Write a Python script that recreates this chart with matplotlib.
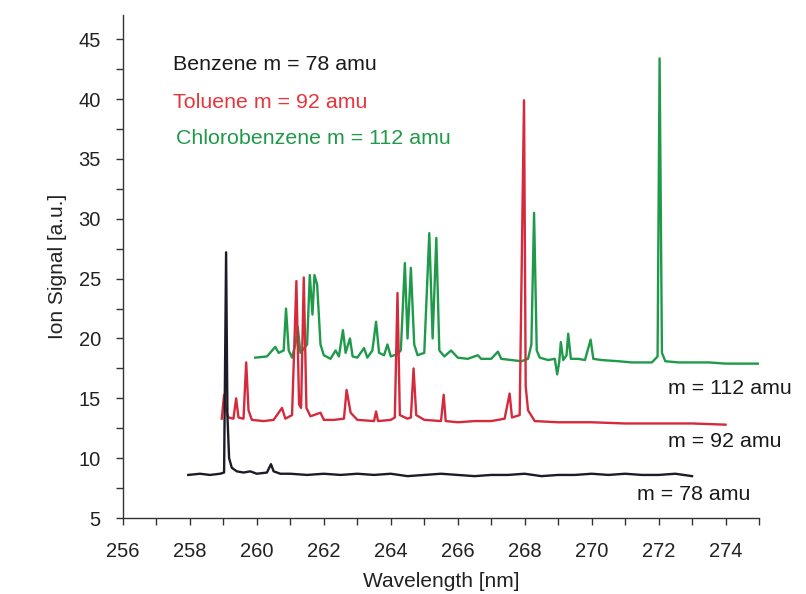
import matplotlib
matplotlib.use("Agg")
import matplotlib.pyplot as plt
from matplotlib.ticker import MultipleLocator

plt.rcParams['font.family'] = ['Liberation Sans', 'DejaVu Sans']

# ---- data ----
benzene_wl = [257.95, 258.3, 258.6, 258.9, 259.02, 259.08, 259.12, 259.17, 259.25, 259.4,
              259.6, 259.8, 260.0, 260.3, 260.42, 260.5, 260.7, 261.0, 261.5, 262.0,
              262.5, 263.0, 263.5, 264.0, 264.5, 265.0, 265.5, 266.0, 266.5, 267.0,
              267.5, 268.0, 268.5, 269.0, 269.5, 270.0, 270.5, 271.0, 271.5, 272.0,
              272.5, 273.0]
benzene_sig = [8.6, 8.7, 8.6, 8.7, 8.8, 27.2, 13.5, 10.0, 9.2, 8.9,
               8.8, 8.9, 8.7, 8.8, 9.5, 8.9, 8.7, 8.7, 8.6, 8.7,
               8.6, 8.7, 8.6, 8.7, 8.5, 8.6, 8.7, 8.6, 8.5, 8.6,
               8.6, 8.7, 8.5, 8.6, 8.6, 8.7, 8.6, 8.7, 8.6, 8.6,
               8.7, 8.5]

toluene_wl = [258.95, 259.02, 259.08, 259.15, 259.3, 259.38, 259.45, 259.6, 259.68, 259.75,
              259.85, 260.2, 260.5, 260.75, 260.85, 261.05, 261.18, 261.26, 261.32, 261.4,
              261.48, 261.6, 261.9, 262.0, 262.3, 262.6, 262.68, 262.8, 263.0, 263.5,
              263.56, 263.62, 264.0, 264.12, 264.2, 264.27, 264.5, 264.6, 264.68, 264.76,
              265.0, 265.5, 265.58, 265.64, 266.0, 266.5, 267.0, 267.4, 267.55, 267.62,
              267.85, 267.93, 267.98, 268.03, 268.1, 268.3, 269.0, 270.0, 271.0, 272.0,
              273.0, 274.0]
toluene_sig = [13.3, 15.3, 14.0, 13.4, 13.3, 15.0, 13.4, 13.3, 18.0, 14.0,
               13.2, 13.1, 13.2, 14.2, 13.3, 13.6, 24.8, 14.5, 14.2, 25.1,
               14.2, 13.5, 13.8, 13.2, 13.2, 13.3, 15.7, 13.8, 13.2, 13.1,
               13.9, 13.1, 13.2, 13.4, 23.8, 13.6, 13.3, 13.4, 17.5, 13.6,
               13.2, 13.1, 15.3, 13.1, 13.0, 13.1, 13.1, 13.3, 15.4, 13.4,
               13.6, 30.0, 39.9, 16.0, 14.0, 13.1, 13.0, 13.0, 12.9, 12.9,
               12.9, 12.8]

chloro_wl = [259.95, 260.3, 260.55, 260.65, 260.8, 260.87, 260.95, 261.05, 261.15, 261.22,
             261.3, 261.5, 261.58, 261.66, 261.72, 261.8, 261.9, 262.0, 262.2, 262.35,
             262.45, 262.57, 262.65, 262.78, 262.86, 263.0, 263.2, 263.3, 263.45, 263.56,
             263.65, 263.8, 263.9, 264.0, 264.2, 264.3, 264.42, 264.5, 264.6, 264.7,
             264.8, 265.0, 265.15, 265.25, 265.36, 265.45, 265.6, 265.8, 266.0, 266.3,
             266.6, 266.7, 267.0, 267.2, 267.3, 267.6, 267.9, 268.1, 268.2, 268.28,
             268.36, 268.45, 268.7, 268.9, 268.97, 269.03, 269.08, 269.15, 269.25, 269.3,
             269.38, 269.6, 269.8, 269.97, 270.05, 270.3, 270.8, 271.2, 271.8, 271.97,
             272.03, 272.1, 272.2, 272.6, 273.0, 273.5, 274.0, 274.5, 275.0]
chloro_sig = [18.4, 18.5, 19.3, 18.8, 19.0, 22.5, 19.0, 18.4, 19.5, 21.0,
              18.8, 19.5, 25.3, 22.0, 25.3, 24.5, 19.5, 18.6, 18.3, 19.0,
              18.5, 20.7, 18.8, 20.0, 18.5, 18.4, 19.2, 18.4, 19.0, 21.4,
              18.8, 18.6, 19.5, 18.5, 18.7, 19.0, 26.3, 20.0, 25.9, 19.5,
              18.6, 18.8, 28.8, 20.0, 28.4, 19.0, 18.5, 19.0, 18.4, 18.3,
              18.6, 18.3, 18.3, 18.9, 18.3, 18.2, 18.1, 18.3, 19.5, 30.5,
              19.0, 18.4, 18.2, 18.3, 17.0, 18.0, 19.7, 18.2, 18.6, 20.4,
              18.3, 18.3, 18.2, 19.9, 18.3, 18.2, 18.1, 18.0, 18.0, 18.5,
              43.4, 18.8, 18.1, 18.0, 18.0, 18.0, 17.9, 17.9, 17.9]

legend_texts = ["Benzene m = 78 amu", "Toluene m = 92 amu", "Chlorobenzene m = 112 amu"]
trace_labels = ["m = 78 amu", "m = 92 amu", "m = 112 amu"]
x_ticks = [256, 258, 260, 262, 264, 266, 268, 270, 272, 274]
y_ticks = [5, 10, 15, 20, 25, 30, 35, 40, 45]

c_black = "#1c1c28"
c_red = "#d42a3c"
c_green = "#1f9a4a"

fig = plt.figure(figsize=(8.06, 5.94), dpi=100)
ax = fig.add_axes([0.1526, 0.1279, 0.7891, 0.8463])

ax.plot(chloro_wl, chloro_sig, color=c_green, lw=1.7, zorder=2)
ax.plot(toluene_wl, toluene_sig, color=c_red, lw=1.7, zorder=3)
ax.plot(benzene_wl, benzene_sig, color=c_black, lw=1.7, zorder=4)

ax.set_xlim(256, 275)
ax.set_ylim(5, 47)
ax.set_xticks(x_ticks)
ax.set_yticks(y_ticks)
ax.xaxis.set_minor_locator(MultipleLocator(1))
ax.yaxis.set_minor_locator(MultipleLocator(2.5))
for s in ("top", "right"):
    ax.spines[s].set_visible(False)
for s in ("left", "bottom"):
    ax.spines[s].set_color("#333333")
    ax.spines[s].set_linewidth(1.0)
ax.tick_params(which="both", direction="out", length=5, width=1.0, color="#333333")
ax.tick_params(axis="x", which="major", labelsize=14.5, pad=12.5, labelcolor="#222222")
ax.tick_params(axis="y", which="major", labelsize=14.5, pad=11, labelcolor="#222222")

ax.set_xlabel("Wavelength [nm]", fontsize=15, color="#222222", labelpad=8)
ax.set_ylabel("Ion Signal [a.u.]", fontsize=15, color="#222222", labelpad=8)

ax.text(257.49, 42.9, legend_texts[0], color="#1a1a1a", fontsize=15.4, va="center", ha="left")
ax.text(257.49, 39.75, legend_texts[1], color="#e8343c", fontsize=15.4, va="center", ha="left")
ax.text(257.58, 36.75, legend_texts[2], color="#1f9a4a", fontsize=15.4, va="center", ha="left")

ax.text(271.36, 7.0, trace_labels[0], color="#1a1a1a", fontsize=15.4, va="center", ha="left", clip_on=False)
ax.text(272.28, 11.43, trace_labels[1], color="#1a1a1a", fontsize=15.4, va="center", ha="left", clip_on=False)
ax.text(272.28, 15.86, trace_labels[2], color="#1a1a1a", fontsize=15.4, va="center", ha="left", clip_on=False)

fig.savefig("out.png", dpi=100)
